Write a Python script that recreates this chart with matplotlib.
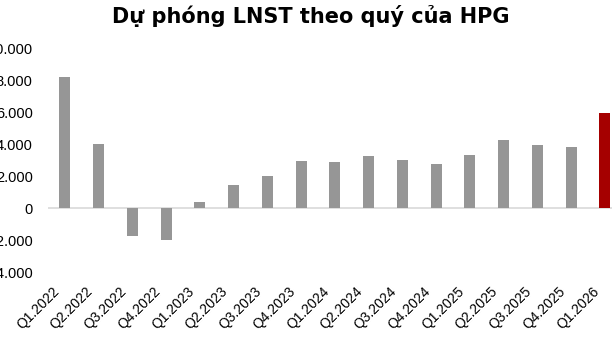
import matplotlib.pyplot as plt
import numpy as np

# Dữ liệu
quy = ["Q1.2022", "Q2.2022", "Q3.2022", "Q4.2022", "Q1.2023", "Q2.2023",
       "Q3.2023", "Q4.2023", "Q1.2024", "Q2.2024", "Q3.2024", "Q4.2024",
       "Q1.2025", "Q2.2025", "Q3.2025", "Q4.2025", "Q1.2026"]
lnst = [8200, 4000, -1750, -2000, 380, 1460, 1980, 2960, 2850, 3270,
        3000, 2780, 3330, 4230, 3960, 3820, 5950]
mau = ["#969696"] * 16 + ["#A50000"]
y_ticks = [-4000, -2000, 0, 2000, 4000, 6000, 8000, 10000]

fig = plt.figure(figsize=(6.12, 3.45), dpi=100)
ax = fig.add_axes([48 / 612, 1 - 272 / 345, 564 / 612, 224 / 345])

x = np.arange(len(quy))
ax.bar(x, lnst, width=0.32, color=mau)
ax.axhline(0, color="#D9D9D9", lw=1.2, zorder=0)

ax.set_xlim(-0.5, -0.5 + 564 / 33.75)
ax.set_ylim(-4000, 10000)
ax.set_yticks(y_ticks)
ax.set_yticklabels([f"{v:,}".replace(",", ".") for v in y_ticks],
                   fontsize=10.5, family="Liberation Sans")
ax.set_xticks(x - 0.38)
ax.set_xticklabels(quy, rotation=45, ha="right", rotation_mode="anchor",
                   fontsize=10, family="Liberation Sans")
ax.tick_params(length=0)
ax.tick_params(axis="y", pad=11)
ax.tick_params(axis="x", pad=9)
for s in ax.spines.values():
    s.set_visible(False)

fig.text(0.507, 0.955, "Dự phóng LNST theo quý của HPG", ha="center", va="center",
         fontsize=15, fontweight="bold")

fig.savefig("out.png", dpi=100)
